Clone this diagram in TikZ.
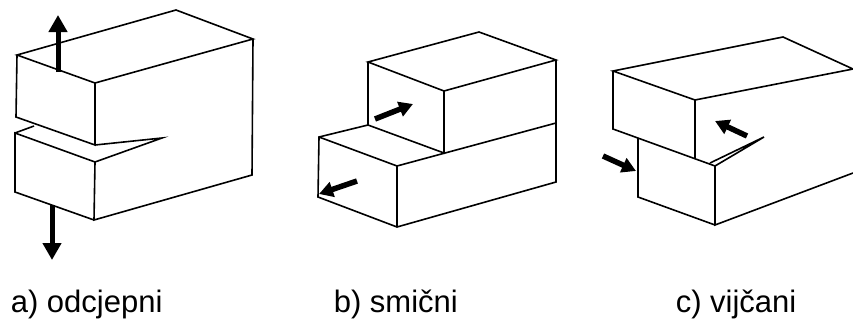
\documentclass[tikz,border=0pt]{standalone}
\usepackage{fontspec}
\setmainfont{Liberation Sans}
\usetikzlibrary{arrows.meta}
\begin{document}
\begin{tikzpicture}[x=1pt,y=-1pt,line width=1.6pt,
            every node/.style={inner sep=0pt,anchor=base west,font=\fontsize{31}{31}\selectfont},
            force/.style={line width=5pt,-{Triangle[width=18pt,length=17pt]}},
            push/.style={line width=5.5pt,-{Triangle[width=15pt,length=14pt]}}]
            \useasboundingbox(0,0)rectangle(853,324);
            % a) odcjepni
            \draw(17,55)--(176,10)--(253,39)--(95,83)--cycle;
            \draw(17,55)--(16,117)--(95,145)--(95,83);
            \draw(253,39)--(252,175)--(94,220)--(95,162)--(15,133)--(15,192)--(94,220);
            \draw(95,145)--(162,138)--(95,162)(15,133)--(34,126);
            \draw[force](58,72)--(58,15);
            \draw[force](52,205)--(52,260);
            % b) smicni
            \draw(368,62)--(479,32)--(556,60)--(444,91)--cycle;
            \draw(368,62)--(368,125)--(444,153)--(444,91);
            \draw(556,60)--(556,182)--(397,227)--(318,197)--(319,137)--(368,125);
            \draw(319,137)--(397,166)--(556,123)(397,166)--(397,227);
            \draw[push](375,119)--(413,104);
            \draw[push](357,181)--(319,194);
            % c) vijcani
            \draw(613,71)--(783,37)--(853,69)--(695,100)--cycle;
            \draw(613,71)--(613,129)--(715,166)--(715,225)--(853,173);
            \draw(695,100)--(695,158)(638,138)--(638,197)--(715,225);
            \draw(710,163)--(764,137)--(715,166);
            \draw[push](747,136)--(715,121);
            \draw[push](603,156)--(636,171);
            \node(lbla)at(10,312){a) odcjepni};
            \node(lblb)at(333,312){b) smični};
            \node(lblc)at(675,312){c) vijčani};
          \end{tikzpicture}
\end{document}
